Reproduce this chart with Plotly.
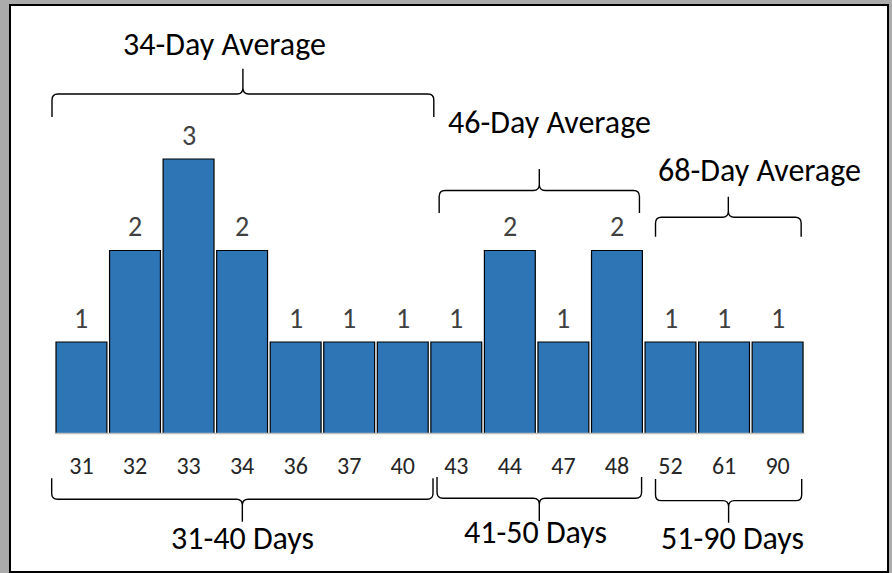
import plotly.graph_objects as go

# Days-to-close values and how many cases fell on each
days = ["31", "32", "33", "34", "36", "37", "40", "43", "44", "47", "48", "52", "61", "90"]
counts = [1, 2, 3, 2, 1, 1, 1, 1, 2, 1, 2, 1, 1, 1]

# Brace groups above the bars: label, span (x0, x1), line / tip / peak heights, label position
avg_labels = ["34-Day Average", "46-Day Average", "68-Day Average"]
avg_x0 = [-0.55, 6.68, 10.72]
avg_x1 = [6.58, 10.42, 13.44]
avg_line = [3.71, 2.655, 2.363]
avg_tip = [3.46, 2.41, 2.151]
avg_peak = [3.985, 2.89, 2.588]
avg_text_x = [2.68, 8.74, 12.66]
avg_text_y = [4.246, 3.404, 2.874]

# Brace groups below the tick labels
rng_labels = ["31-40 Days", "41-50 Days", "51-90 Days"]
rng_x0 = [-0.556, 6.64, 10.72]
rng_x1 = [6.565, 10.46, 13.45]
rng_line = [-0.719, -0.708, -0.734]
rng_tip = [-0.49, -0.475, -0.497]
rng_peak = [-0.964, -0.956, -0.975]
rng_text_x = [3.0, 8.47, 12.16]
rng_text_y = [-1.145, -1.087, -1.148]

FONT = "Calibri, Carlito, Lato, sans-serif"
xs = list(range(len(days)))


def brace_path(x0, x1, y_line, y_tip, y_peak, rx=0.11, ry=0.065):
    xm = (x0 + x1) / 2
    t = 1 if y_tip > y_line else -1
    p = 1 if y_peak > y_line else -1
    return " ".join([
        f"M {x0},{y_tip}",
        f"L {x0},{y_line + t * ry}",
        f"Q {x0},{y_line} {x0 + rx},{y_line}",
        f"L {xm - rx},{y_line}",
        f"Q {xm},{y_line} {xm},{y_line + p * ry}",
        f"L {xm},{y_peak}",
        f"M {xm},{y_line + p * ry}",
        f"Q {xm},{y_line} {xm + rx},{y_line}",
        f"L {x1 - rx},{y_line}",
        f"Q {x1},{y_line} {x1},{y_line + t * ry}",
        f"L {x1},{y_tip}",
    ])


fig = go.Figure(
    go.Bar(
        x=xs,
        y=counts,
        marker=dict(color="#2E75B6", line=dict(color="#000000", width=1.2)),
        hoverinfo="skip",
    )
)

shapes = [
    # white card with dark frame
    dict(type="rect", xref="paper", yref="paper",
         x0=10 / 892, x1=888 / 892, y0=1 - 572 / 573, y1=1 - 5 / 573,
         fillcolor="#FFFFFF", line=dict(color="#000000", width=2), layer="below"),
    # category baseline
    dict(type="line", xref="x", yref="y", x0=-0.5, x1=len(days) - 0.5, y0=0, y1=0,
         line=dict(color="#BFBFBF", width=1.5), layer="above"),
]

annotations = []
# value labels above each bar
for x, c in zip(xs, counts):
    annotations.append(dict(x=x, y=c, xref="x", yref="y", text=str(c), showarrow=False,
                            font=dict(family=FONT, size=28, color="#404040"),
                            xanchor="center", yanchor="middle", yshift=24))

for lab, a, b, yl, yt, yp, tx, ty in zip(avg_labels, avg_x0, avg_x1, avg_line, avg_tip,
                                         avg_peak, avg_text_x, avg_text_y):
    shapes.append(dict(type="path", xref="x", yref="y", path=brace_path(a, b, yl, yt, yp),
                       line=dict(color="#000000", width=1.4)))
    annotations.append(dict(x=tx, y=ty, xref="x", yref="y", text=lab, showarrow=False,
                            font=dict(family=FONT, size=32, color="#000000"),
                            xanchor="center", yanchor="middle"))

for lab, a, b, yl, yt, yp, tx, ty in zip(rng_labels, rng_x0, rng_x1, rng_line, rng_tip,
                                         rng_peak, rng_text_x, rng_text_y):
    shapes.append(dict(type="path", xref="x", yref="y", path=brace_path(a, b, yl, yt, yp),
                       line=dict(color="#000000", width=1.4)))
    annotations.append(dict(x=tx, y=ty, xref="x", yref="y", text=lab, showarrow=False,
                            font=dict(family=FONT, size=32, color="#000000"),
                            xanchor="center", yanchor="middle"))

fig.update_layout(
    width=892,
    height=573,
    margin=dict(l=0, r=0, t=0, b=0),
    paper_bgcolor="#ABABAB",
    plot_bgcolor="#ABABAB",
    bargap=0.05,
    showlegend=False,
    shapes=shapes,
    annotations=annotations,
    xaxis=dict(
        range=[-81.45 / 53.55, (892 - 81.45) / 53.55],
        tickvals=xs,
        ticktext=days,
        tickfont=dict(family=FONT, size=24, color="#262626"),
        showgrid=False,
        zeroline=False,
        showline=False,
        ticks="",
        anchor="free",
        position=(573 - 433.5) / 573,
        ticklabelstandoff=15,
        fixedrange=True,
    ),
    yaxis=dict(
        range=[(433.5 - 573) / 91.5, 433.5 / 91.5],
        visible=False,
        fixedrange=True,
    ),
)

fig.write_html("out.html")
